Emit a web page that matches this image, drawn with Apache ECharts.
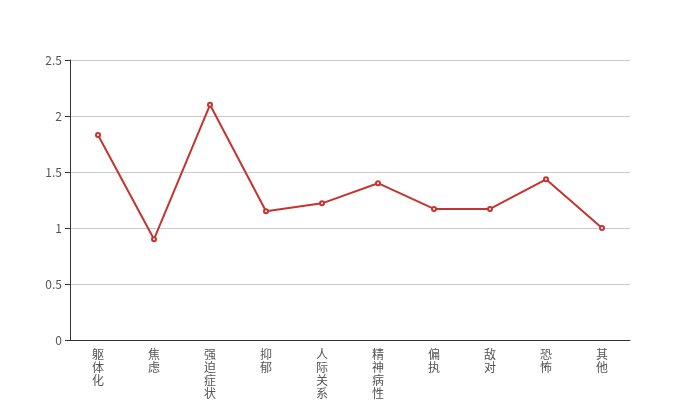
<!DOCTYPE html>
<html>
<head>
<meta charset="utf-8">
<script src="https://cdn.jsdelivr.net/npm/echarts@6/dist/echarts.min.js"></script>
<style>
  html, body { margin: 0; padding: 0; background: #fff; }
  #chart { width: 700px; height: 400px; }
</style>
</head>
<body>
<div id="chart"></div>
<script>
// 因子名称与得分
const categories = ['躯体化', '焦虑', '强迫症状', '抑郁', '人际关系', '精神病性', '偏执', '敌对', '恐怖', '其他']
const scores = [1.83, 0.90, 2.10, 1.15, 1.22, 1.40, 1.17, 1.17, 1.435, 1.00]

const chart = echarts.init(document.getElementById('chart'))

chart.setOption({
  animation: false,
  grid: { left: 70, right: 70, top: 60, bottom: 60 },
  xAxis: {
    type: 'category',
    data: categories,
    axisLine: { lineStyle: { color: '#333' } },
    axisTick: { alignWithLabel: false, lineStyle: { color: '#333' } },
    axisLabel: {
      interval: 0,
      color: '#555',
      fontSize: 12,
      lineHeight: 13,
      fontFamily: 'Noto Sans CJK SC',
      // 竖排显示
      formatter: v => v.split('').join('\n')
    }
  },
  yAxis: {
    type: 'value',
    min: 0,
    max: 2.5,
    interval: 0.5,
    axisLine: { show: true, lineStyle: { color: '#333' } },
    axisTick: { show: true, lineStyle: { color: '#333' } },
    axisLabel: { color: '#555', fontSize: 12, fontFamily: 'Noto Sans CJK SC' },
    splitLine: { lineStyle: { color: '#ccc' } }
  },
  series: [{
    type: 'line',
    data: scores,
    symbol: 'emptyCircle',
    symbolSize: 4,
    lineStyle: { width: 2, color: '#c23531' },
    itemStyle: { color: '#c23531' }
  }]
})
</script>
</body>
</html>
